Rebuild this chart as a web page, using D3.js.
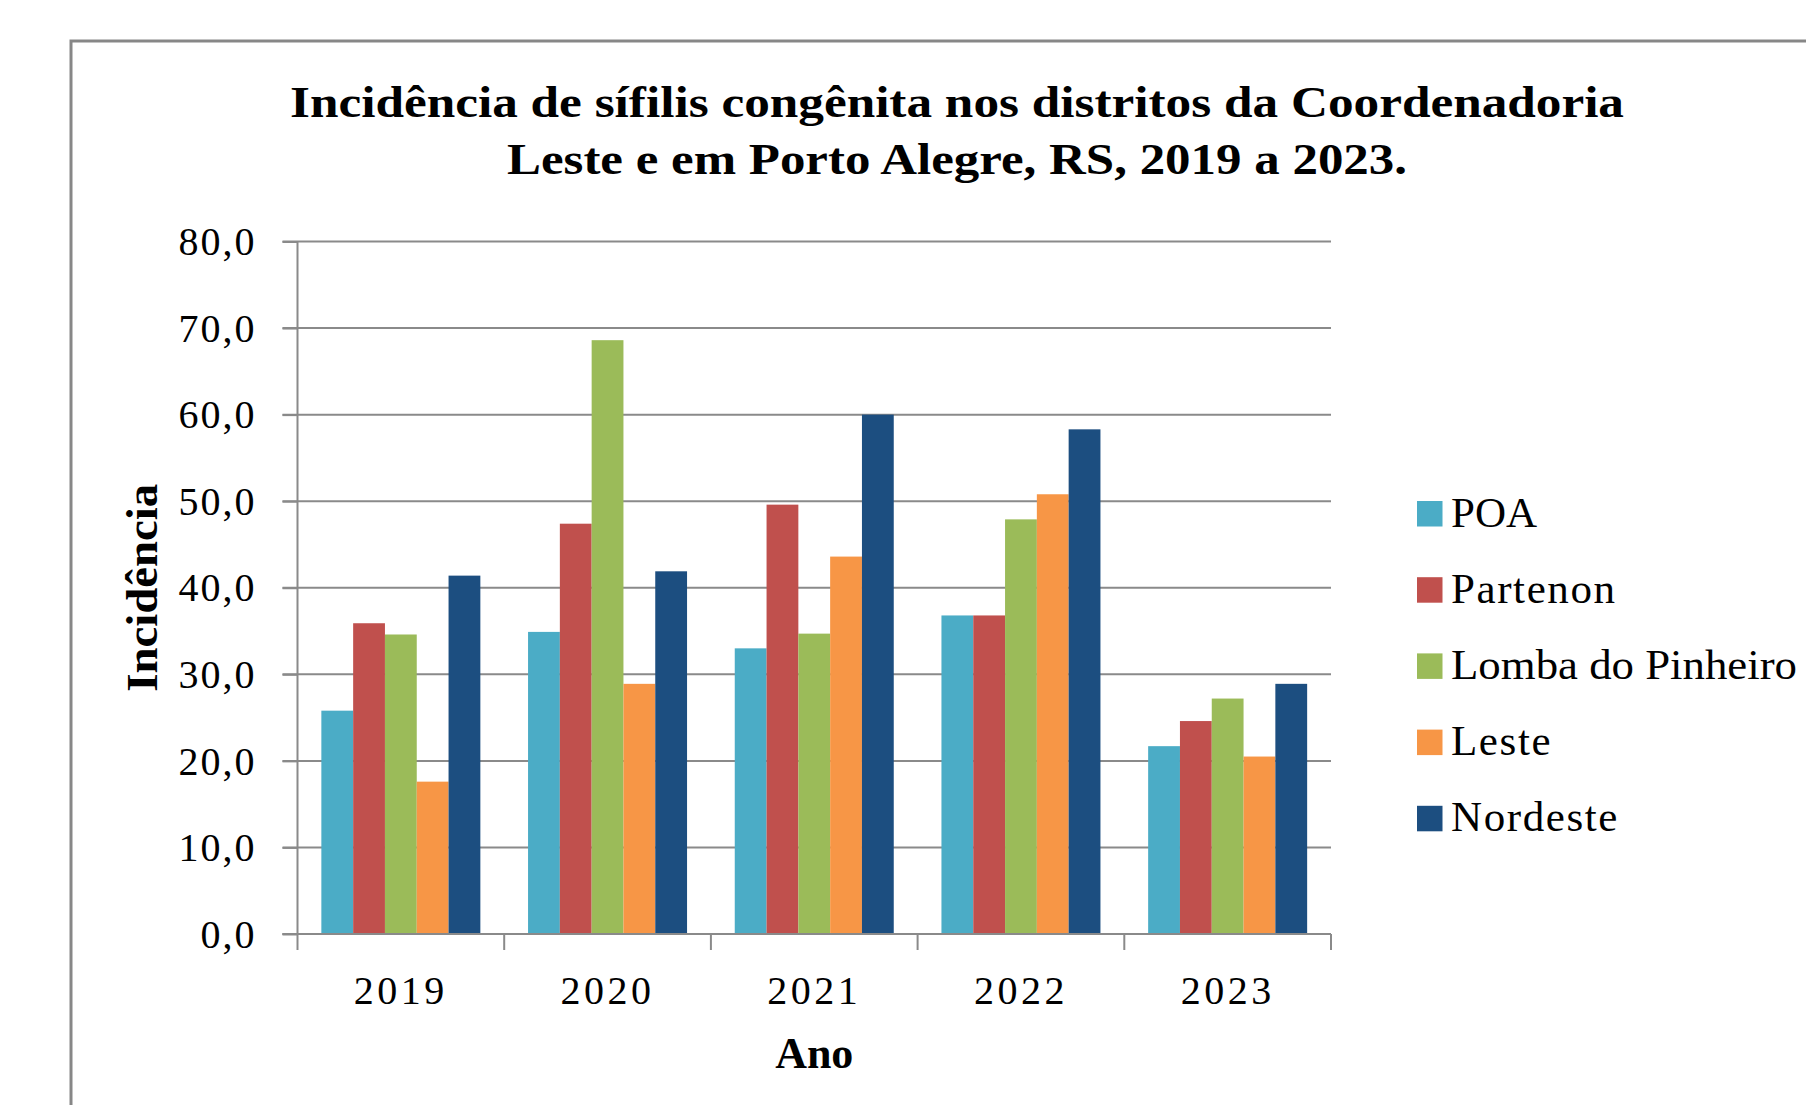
<!DOCTYPE html>
<html>
<head>
<meta charset="utf-8">
<script src="https://cdn.jsdelivr.net/npm/d3@7"></script>
<style>
  html, body { margin: 0; padding: 0; background: #ffffff; overflow: hidden; }
  svg { display: block; }
  text { font-family: "Liberation Serif", "Times New Roman", serif; fill: #000; }
</style>
</head>
<body>
<svg id="chart" width="1806" height="1105"></svg>
<script>
// ---- data ----
const years = ["2019", "2020", "2021", "2022", "2023"];
const seriesNames = ["POA", "Partenon", "Lomba do Pinheiro", "Leste", "Nordeste"];
const poa = [25.8, 34.9, 33.0, 36.8, 21.7];
const partenon = [35.9, 47.4, 49.6, 36.8, 24.6];
const lomba = [34.6, 68.6, 34.7, 47.9, 27.2];
const leste = [17.6, 28.9, 43.6, 50.8, 20.5];
const nordeste = [41.4, 41.9, 60.0, 58.3, 28.9];
const seriesColors = ["#4BACC6", "#C0504D", "#9BBB59", "#F79646", "#1C4E80"];
const yTickValues = [0, 10, 20, 30, 40, 50, 60, 70, 80];
const yTickLabels = ["0,0", "10,0", "20,0", "30,0", "40,0", "50,0", "60,0", "70,0", "80,0"];
const titleLines = ["Incidência de sífilis congênita nos distritos da Coordenadoria",
                    "Leste e em Porto Alegre, RS, 2019 a 2023."];
const yAxisTitle = "Incidência";
const xAxisTitle = "Ano";

const seriesValues = [poa, partenon, lomba, leste, nordeste];

// ---- layout ----
const svg = d3.select("#chart");
const plot = { left: 297.5, right: 1331, top: 241.5, bottom: 934 };
const gridColor = "#8a8a8a";

// outer frame
svg.append("rect")
  .attr("x", 71).attr("y", 41).attr("width", 2000).attr("height", 2000)
  .attr("fill", "#fff").attr("stroke", "#878787").attr("stroke-width", 3);

// title
const titleG = svg.append("g");
const titleWidths = [1334, 900];
titleLines.forEach((t, i) => {
  titleG.append("text")
    .attr("x", 957).attr("y", 117 + i * 57)
    .attr("text-anchor", "middle")
    .attr("font-size", 44).attr("font-weight", "bold")
    .attr("textLength", titleWidths[i]).attr("lengthAdjust", "spacingAndGlyphs")
    .text(t);
});

// scales
const y = d3.scaleLinear().domain([0, 80]).range([plot.bottom, plot.top]);
const x0 = d3.scaleBand().domain(years).range([plot.left, plot.right]).padding(0);
const x1 = d3.scaleBand().domain(seriesNames).range([0, x0.bandwidth()])
  .paddingInner(0).paddingOuter(0.75);

// gridlines + y axis
const yAxis = d3.axisLeft(y)
  .tickValues(yTickValues)
  .tickSize(15)
  .tickPadding(26)
  .tickFormat((d, i) => yTickLabels[i]);

const grid = svg.append("g");
grid.selectAll("line").data(yTickValues).join("line")
  .attr("x1", plot.left - 15).attr("x2", plot.right)
  .attr("y1", d => y(d)).attr("y2", d => y(d))
  .attr("stroke", gridColor).attr("stroke-width", 2);

const yG = svg.append("g").attr("transform", `translate(${plot.left},0)`).call(yAxis);
yG.select(".domain").attr("stroke", gridColor).attr("stroke-width", 2)
  .attr("d", `M0,${plot.top}V${plot.bottom}`);
yG.selectAll(".tick line").attr("stroke", gridColor).attr("stroke-width", 2);
yG.selectAll(".tick text")
  .attr("font-family", "Liberation Serif")
  .attr("font-size", 40)
  .attr("letter-spacing", 2)
  .attr("dy", "0.33em")
  .attr("fill", "#000");

// bars
const barsG = svg.append("g");
seriesNames.forEach((s, si) => {
  barsG.selectAll(null).data(seriesValues[si]).join("rect")
    .attr("x", (d, i) => x0(years[i]) + x1(s))
    .attr("y", d => y(d))
    .attr("width", x1.bandwidth())
    .attr("height", d => y(0) - y(d))
    .attr("fill", seriesColors[si]);
});

// x axis
const xAxis = d3.axisBottom(x0).tickSize(0).tickPadding(0);
const xG = svg.append("g").attr("transform", `translate(0,${plot.bottom})`).call(xAxis);
xG.select(".domain").attr("stroke", gridColor).attr("stroke-width", 2)
  .attr("d", `M${plot.left - 15},0H${plot.right}`);
xG.selectAll(".tick text")
  .attr("y", 70).attr("dy", 0)
  .attr("font-family", "Liberation Serif")
  .attr("font-size", 40)
  .attr("letter-spacing", 3.5)
  .attr("fill", "#000");
// category boundary ticks
const bounds = years.map(yr => x0(yr)).concat([x0(years[years.length - 1]) + x0.bandwidth()]);
xG.selectAll("line.bound").data(bounds).join("line").attr("class", "bound")
  .attr("x1", d => d).attr("x2", d => d)
  .attr("y1", 0).attr("y2", 16)
  .attr("stroke", gridColor).attr("stroke-width", 2);

// axis titles
svg.append("text")
  .attr("transform", `translate(157,${(plot.top + plot.bottom) / 2}) rotate(-90)`)
  .attr("text-anchor", "middle")
  .attr("font-size", 44).attr("font-weight", "bold")
  .attr("textLength", 208).attr("lengthAdjust", "spacingAndGlyphs")
  .text(yAxisTitle);

svg.append("text")
  .attr("x", (plot.left + plot.right) / 2).attr("y", 1068)
  .attr("text-anchor", "middle")
  .attr("font-size", 44).attr("font-weight", "bold")
  .text(xAxisTitle);

// legend
const legend = svg.append("g");
seriesNames.forEach((s, i) => {
  const top = 501 + i * 76.2;
  legend.append("rect")
    .attr("x", 1417).attr("y", top).attr("width", 25.5).attr("height", 25.5)
    .attr("fill", seriesColors[i]);
  const t = legend.append("text")
    .attr("x", 1451).attr("y", top + 25.5)
    .attr("font-size", 43)
    .text(s);
  if (s === "Lomba do Pinheiro") {
    t.attr("textLength", 346).attr("lengthAdjust", "spacingAndGlyphs");
  } else if (i > 0) {
    t.attr("letter-spacing", 1.6);
  }
});
</script>
</body>
</html>
